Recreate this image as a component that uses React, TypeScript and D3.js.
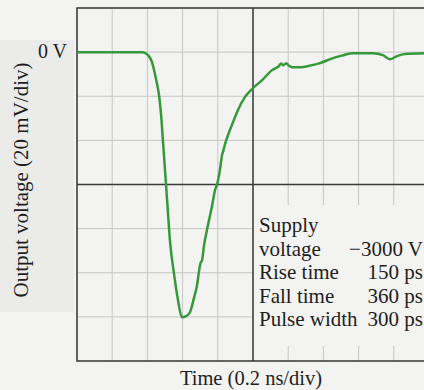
import React, { useEffect, useRef } from 'react';
import * as d3 from 'd3';

// trace: time in ns, output in mV
const timeNs = [
  0, 0.375, 0.404, 0.426, 0.448, 0.466, 0.478, 0.488, 0.5, 0.512, 0.528, 0.552, 0.574, 0.596,
  0.62, 0.642, 0.664, 0.682, 0.694, 0.702, 0.71, 0.722, 0.744, 0.768, 0.784, 0.796, 0.812,
  0.824, 0.832, 0.84, 0.858, 0.88, 0.914, 0.954, 1.0, 1.052, 1.108, 1.13, 1.146, 1.16, 1.172,
  1.188, 1.204, 1.222, 1.278, 1.336, 1.38, 1.454, 1.512, 1.568, 1.682, 1.738, 1.778, 1.818,
  1.864, 2.0,
];
const voltageMv = [
  0, 0, -1.4, -4.5, -11.8, -19.5, -28.6, -39.9, -53.5, -67.1, -85.3, -101, -112.5, -120.2,
  -119.7, -117.9, -111.6, -105.7, -99, -95.5, -94.5, -87.5, -78.5, -69.4, -62.6, -59.9, -53.5,
  -46.7, -44.5, -42, -37.6, -33.1, -26.3, -20.4, -16.3, -12.7, -8.2, -7.2, -6.4, -5.2, -6.0,
  -5.0, -6.2, -6.8, -6.8, -5.9, -5.0, -2.7, -1.4, -0.5, -0.5, -1.4, -3.2, -1.8, -0.9, -0.5,
];

const xTicks = d3.range(0, 2.0001, 0.2);
const yTicks = d3.range(-140, 20.001, 20);

const infoRows = [
  ['Supply', ''],
  ['voltage', '\u22123000 V'],
  ['Rise time', '150 ps'],
  ['Fall time', '360 ps'],
  ['Pulse width', '300 ps'],
];

const App = () => {
  const svgRef = useRef(null);

  useEffect(() => {
    const svg = d3.select(svgRef.current);
    svg.selectAll('*').remove();

    const width = 424;
    const height = 390;
    const margin = { top: 8, right: -5, bottom: 29, left: 77 };
    const font = '"Liberation Serif", "Times New Roman", serif';

    const x = d3.scaleLinear()
      .domain([0, 2.0])
      .range([margin.left, width - margin.right]);

    const y = d3.scaleLinear()
      .domain([-140, 20])
      .range([height - margin.bottom, margin.top]);

    // paper
    svg.append('rect')
      .attr('width', width)
      .attr('height', height)
      .attr('fill', '#f3f3f2');

    svg.append('rect')
      .attr('x', 0)
      .attr('y', 40)
      .attr('width', 74)
      .attr('height', 272)
      .attr('fill', '#ebebea');

    // grid
    svg.append('g')
      .selectAll('line')
      .data(xTicks)
      .enter().append('line')
      .attr('x1', d => x(d))
      .attr('x2', d => x(d))
      .attr('y1', y(20))
      .attr('y2', y(-140))
      .attr('stroke', '#c6c6c6')
      .attr('stroke-width', 1);

    svg.append('g')
      .selectAll('line')
      .data(yTicks)
      .enter().append('line')
      .attr('x1', x(0))
      .attr('x2', x(2.0))
      .attr('y1', d => y(d))
      .attr('y2', d => y(d))
      .attr('stroke', '#c6c6c6')
      .attr('stroke-width', 1);

    // info box hides the grid behind it
    svg.append('rect')
      .attr('x', x(1.0) + 1)
      .attr('y', 205)
      .attr('width', width)
      .attr('height', 141)
      .attr('fill', '#f3f3f2');

    // centre lines and frame
    svg.append('line')
      .attr('x1', x(1.0)).attr('x2', x(1.0))
      .attr('y1', y(20)).attr('y2', y(-140))
      .attr('stroke', '#3a3a3a').attr('stroke-width', 1.5);

    svg.append('line')
      .attr('x1', x(0)).attr('x2', x(2.0))
      .attr('y1', y(-60)).attr('y2', y(-60))
      .attr('stroke', '#3a3a3a').attr('stroke-width', 1.5);

    svg.append('rect')
      .attr('x', x(0))
      .attr('y', y(20))
      .attr('width', x(2.0) - x(0))
      .attr('height', y(-140) - y(20))
      .attr('fill', 'none')
      .attr('stroke', '#3a3a3a')
      .attr('stroke-width', 1.5);

    // trace
    const line = d3.line()
      .x((d, i) => x(timeNs[i]))
      .y(d => y(d))
      .curve(d3.curveMonotoneX);

    svg.append('path')
      .datum(voltageMv)
      .attr('fill', 'none')
      .attr('stroke', '#35993a')
      .attr('stroke-width', 2.5)
      .attr('stroke-linejoin', 'round')
      .attr('d', line);

    // labels
    svg.append('text')
      .attr('x', 67)
      .attr('y', y(0) + 6)
      .attr('text-anchor', 'end')
      .style('font-family', font)
      .style('font-size', '20px')
      .attr('fill', '#1e1e1e')
      .text('0 V');

    svg.append('text')
      .attr('transform', `translate(28, 180) rotate(-90)`)
      .attr('text-anchor', 'middle')
      .style('font-family', font)
      .style('font-size', '21px')
      .attr('fill', '#1e1e1e')
      .text('Output voltage (20 mV/div)');

    svg.append('text')
      .attr('x', 251)
      .attr('y', 385)
      .attr('text-anchor', 'middle')
      .style('font-family', font)
      .style('font-size', '20.5px')
      .attr('fill', '#1e1e1e')
      .text('Time (0.2 ns/div)');

    const info = svg.append('g')
      .style('font-family', font)
      .style('font-size', '21px')
      .attr('fill', '#1e1e1e');

    info.selectAll('text.key')
      .data(infoRows)
      .enter().append('text')
      .attr('class', 'key')
      .attr('x', 259)
      .attr('y', (d, i) => 232 + i * 23.5)
      .text(d => d[0]);

    info.selectAll('text.val')
      .data(infoRows)
      .enter().append('text')
      .attr('class', 'val')
      .attr('x', 423)
      .attr('y', (d, i) => 232 + i * 23.5)
      .attr('text-anchor', 'end')
      .text(d => d[1]);
  });

  return (
    <div style={{ position: 'absolute', left: 0, top: 0 }}>
      <svg ref={svgRef} width="424" height="390" style={{ display: 'block' }}></svg>
    </div>
  );
};

export default App;
